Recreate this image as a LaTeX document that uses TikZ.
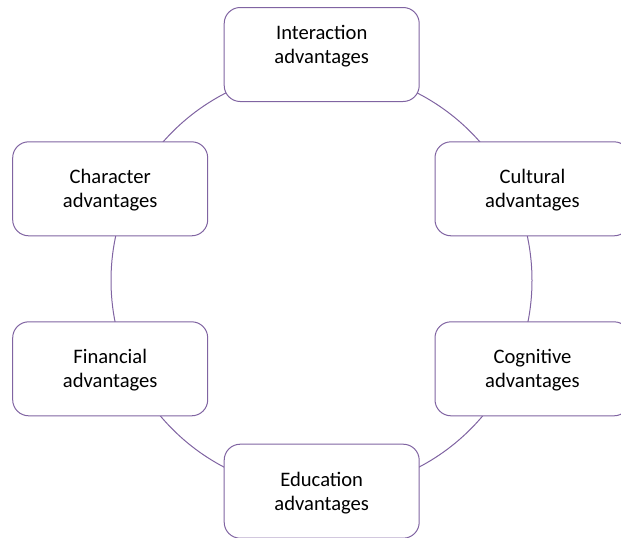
\documentclass[tikz,border=0pt]{standalone}
\usepackage{fontspec}
\setmainfont{Carlito}
\usepackage{tikz}
\definecolor{lilac}{RGB}{128,100,162}
\tikzstyle{box}=[rectangle,rounded corners=16pt,draw=lilac,line width=1pt,fill=white,text=black,
  minimum width=195pt,minimum height=94pt,align=center,text depth=0pt,
  font=\fontsize{20.6}{24}\selectfont]
\tikzstyle{ring}=[draw=lilac,line width=1pt]

\begin{document}
\begin{tikzpicture}[x=1pt,y=-1pt]

  \useasboundingbox (0,0) rectangle (621,538);
  \coordinate (O) at (321.5,280.5);
  \draw[ring] (O) circle[radius=210.5];

  \node[box,text depth=21pt] (Int) at (321.7,54.5) {Interaction\\advantages};
  \node[box] (Cul) at (532.5,188.8) {Cultural\\advantages};
  \node[box] (Cog) at (532.5,368.8) {Cognitive\\advantages};
  \node[box] (Edu) at (321.7,491.2) {Education\\advantages};
  \node[box] (Fin) at (110.2,368.8) {Financial\\advantages};
  \node[box] (Cha) at (110.2,188.8) {Character\\advantages};

\end{tikzpicture}
\end{document}
